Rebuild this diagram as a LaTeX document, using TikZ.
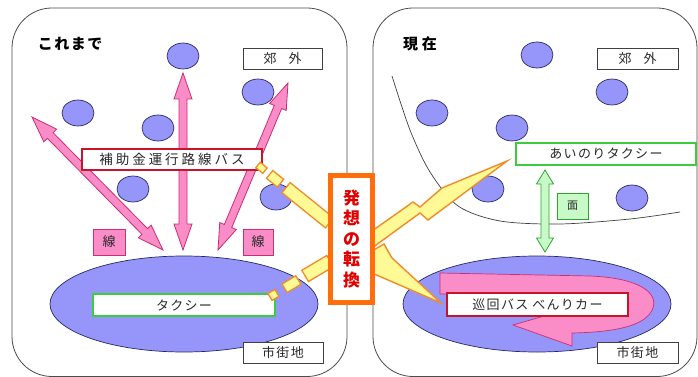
\documentclass[tikz,border=0pt]{standalone}
\usepackage{fontspec}
\setmainfont{Noto Sans CJK JP}[LetterSpace=10]
\usetikzlibrary{calc}
\definecolor{blob}{RGB}{150,150,250}
\definecolor{blobline}{RGB}{40,40,100}
\definecolor{pinkf}{RGB}{250,140,200}
\definecolor{pinkd}{RGB}{205,45,115}
\definecolor{redb}{RGB}{200,20,40}
\definecolor{greenb}{RGB}{60,205,60}
\definecolor{orangeb}{RGB}{255,110,10}
\definecolor{yell}{RGB}{255,250,150}
\definecolor{yellb}{RGB}{240,140,40}
\definecolor{lgreen}{RGB}{200,250,200}
\definecolor{txt}{RGB}{40,40,40}
\definecolor{hot}{RGB}{225,0,0}
\tikzset{
  panel/.style={draw=black!70, line width=0.8pt, rounded corners=40pt, fill=white},
  blobs/.style={fill=blob, draw=blobline, line width=0.7pt},
  lbl/.style={draw=black!75, fill=white, line width=0.9pt, text=txt, inner sep=0pt, font=\fontsize{13}{15}\selectfont},
  redbox/.style={lbl, draw=redb, line width=1.8pt},
  greenbox/.style={lbl, draw=greenb, line width=1.8pt},
  pinkbox/.style={lbl, fill=pinkf, draw=pinkd, line width=1pt},
  mgbox/.style={lbl, fill=lgreen, draw=greenb!80!black, line width=1pt, font=\fontsize{11}{13}\selectfont},
  pinkarrow/.style={fill=pinkf, draw=pinkd, line width=0.8pt, line join=miter},
  greenarrow/.style={fill=lgreen, draw=greenb!80!black, line width=0.8pt},
  bolt/.style={fill=yell, draw=yellb, line width=1.4pt, line join=miter},
  yseg/.style={fill=yell, draw=yellb, line width=1.3pt, line join=miter},
}
% double-headed block arrow: #1 style, #2 A, #3 B, #4 head length, #5 head half width, #6 shaft half width
\newcommand{\dblarr}[6]{%
  \filldraw[#1] (#2) -- ($(#2)!#4!(#3)!#5!90:(#3)$) -- ($(#2)!#4!(#3)!#6!90:(#3)$)
   -- ($(#3)!#4!(#2)!#6!-90:(#2)$) -- ($(#3)!#4!(#2)!#5!-90:(#2)$) -- (#3)
   -- ($(#3)!#4!(#2)!#5!90:(#2)$) -- ($(#3)!#4!(#2)!#6!90:(#2)$)
   -- ($(#2)!#4!(#3)!#6!-90:(#3)$) -- ($(#2)!#4!(#3)!#5!-90:(#3)$) -- cycle;}
% segment of dashed band: #1 P0, #2 P1, #3 from, #4 to, #5 half width
\newcommand{\ysegment}[5]{%
  \filldraw[yseg] ($(#1)!#3!(#2)!#5!90:(#2)$) -- ($(#1)!#4!(#2)!#5!90:(#2)$)
   -- ($(#1)!#4!(#2)!#5!-90:(#2)$) -- ($(#1)!#3!(#2)!#5!-90:(#2)$) -- cycle;}
\begin{document}
\begin{tikzpicture}[x=1pt,y=-1pt]
\useasboundingbox (0,0) rectangle (698,377);
\clip (0,0) rectangle (698,377);
\fill[white] (0,0) rectangle (698,377);
% panels
\draw[panel] (12,8) rectangle (347,376.5);
\draw[panel] (373,8) rectangle (697,376.5);
% titles
\node[font=\fontsize{15}{17}\selectfont\bfseries, text=black] (t1) at (70,44) {これまで};
\node[font=\fontsize{15}{17}\selectfont\bfseries, text=black] (t2) at (420,44) {現\hspace{4pt}在};
% boundary curve in right panel
\draw[black!75, line width=0.7pt] plot[smooth] coordinates {(392,76) (410,130) (430,172) (458,206) (500,221) (560,224) (630,219) (680,212)};
% circles left
\foreach \p/\n in {{183,56}/c1,{258,92}/c2,{78,113}/c3,{158,128}/c4,{133,189}/c5,{276,197}/c6}
  \draw[blobs] (\p) coordinate (\n) ellipse [x radius=16pt, y radius=13pt];
% circles right
\foreach \p/\n in {{537,55}/d1,{612,92}/d2,{432,113}/d3,{512,128}/d4,{488,189}/d5,{632,198}/d6}
  \draw[blobs] (\p) coordinate (\n) ellipse [x radius=16pt, y radius=13pt];
% ellipses
\draw[blobs] (184,304) coordinate (eL) ellipse [x radius=134pt, y radius=48pt];
\draw[blobs] (537,304) coordinate (eR) ellipse [x radius=134pt, y radius=48pt];
% pink U-turn arrow
\filldraw[pinkarrow, line width=0.7pt] (440,273) -- (590,276) .. controls (640,278) and (658,293) .. (653,308)
  .. controls (647,324) and (622,332) .. (572,333) -- (572,346) -- (513,325) -- (572,308) -- (572,316)
  .. controls (600,316) and (620,312) .. (620,304) .. controls (620,297) and (605,294) .. (590,294) -- (440,294) -- cycle;
% pink double arrows
\coordinate (aL1) at (32,117); \coordinate (aL2) at (163,250);
\coordinate (aM1) at (183,73); \coordinate (aM2) at (183,250);
\coordinate (aR1) at (288,83); \coordinate (aR2) at (218,250);
\dblarr{pinkarrow}{aL1}{aL2}{26pt}{9pt}{4pt}
\dblarr{pinkarrow}{aM1}{aM2}{26pt}{9pt}{4pt}
\dblarr{pinkarrow}{aR1}{aR2}{26pt}{9pt}{4pt}
% green double arrow
\coordinate (g1) at (545,170); \coordinate (g2) at (545,252);
\dblarr{greenarrow}{g1}{g2}{14pt}{8.5pt}{4pt}
% labels
\node[lbl, minimum width=79pt, minimum height=21pt] (subL) at (282.5,58.5) {郊\hspace{12pt}外};
\node[lbl, minimum width=81pt, minimum height=21pt] (subR) at (637.5,58.5) {郊\hspace{12pt}外};
\node[lbl, minimum width=80pt, minimum height=21pt] (cityL) at (283,352.5) {市街地};
\node[lbl, minimum width=81pt, minimum height=21pt] (cityR) at (637.5,352.5) {市街地};
\node[redbox, minimum width=180pt, minimum height=21pt, font=\fontsize{13.5}{15}\selectfont\addfontfeature{LetterSpace=22}] (bus) at (172,159.5) {補助金運行路線バス};
\node[greenbox, minimum width=182pt, minimum height=22pt] (taxi) at (184,305) {タクシー};
\node[greenbox, minimum width=180pt, minimum height=22pt] (aino) at (606,154) {あいのりタクシー};
\node[redbox, minimum width=181pt, minimum height=23pt] (junkai) at (537.5,304.5) {巡回バス\hspace{4pt}べんりカー};
\node[pinkbox, minimum width=32pt, minimum height=26pt] (senL) at (109,242) {線};
\node[pinkbox, minimum width=30pt, minimum height=26pt] (senR) at (258,242) {線};
\node[mgbox, minimum width=31pt, minimum height=26pt] (men) at (572.5,206) {面};
% dashed yellow bands
\coordinate (yA0) at (258,165); \coordinate (yA1) at (331,224);
\ysegment{yA0}{yA1}{0pt}{9pt}{3.5pt}
\ysegment{yA0}{yA1}{15pt}{29pt}{5pt}
\ysegment{yA0}{yA1}{36pt}{92pt}{6.5pt}
\coordinate (yB0) at (270,297); \coordinate (yB1) at (331,260.5);
\ysegment{yB0}{yB1}{0pt}{8pt}{4pt}
\ysegment{yB0}{yB1}{17pt}{33pt}{5pt}
\ysegment{yB0}{yB1}{41pt}{70pt}{6.5pt}
% lightning bolts
\filldraw[bolt] (372,231) -- (413,202) -- (420,207) -- (442,188) -- (507,161) -- (428,220) -- (420,213) -- (372,248) -- cycle;
\filldraw[bolt] (372,251) -- (384,244) -- (392,258) -- (441,303) -- (372,273) -- cycle;
% center box
\node[draw=orangeb, line width=5pt, fill=white, minimum width=42pt, minimum height=127pt, inner sep=0pt,
  text=hot, align=center, font=\fontsize{17}{20.5}\selectfont\bfseries] (idea) at (351.5,239) {発\\想\\の\\転\\換};
\end{tikzpicture}
\end{document}
